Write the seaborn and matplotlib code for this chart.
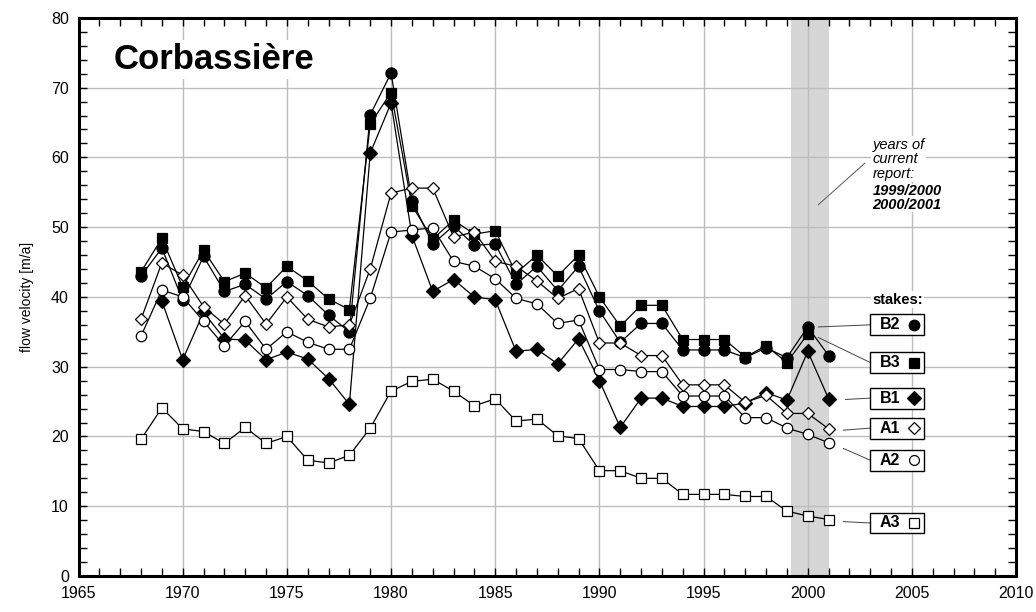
"""Corbassiere glacier: flow velocity at the stakes, 1968-2001."""

import matplotlib
matplotlib.use("Agg")
import matplotlib.pyplot as plt
from matplotlib.patches import Rectangle
from matplotlib.ticker import MultipleLocator
import seaborn as sns

# --- data -----------------------------------------------------------------
years_full = list(range(1968, 2002))
years_b3 = list(range(1968, 2001))
years_b1 = list(range(1969, 2002))

b2 = [43.0, 47.0, 39.5, 45.8, 40.8, 41.8, 39.7, 42.2, 40.2, 37.4, 35.0, 66.1,
      72.1, 53.8, 47.6, 50.2, 47.4, 47.6, 41.8, 44.4, 40.9, 44.4, 38.0, 33.5,
      36.2, 36.2, 32.4, 32.4, 32.4, 31.3, 32.7, 31.3, 35.7, 31.6]
b3 = [43.6, 48.4, 41.4, 46.7, 42.2, 43.4, 41.3, 44.4, 42.3, 39.7, 38.2, 64.8,
      69.3, 53.1, 48.3, 51.0, 49.0, 49.5, 43.4, 46.0, 43.0, 46.0, 40.0, 35.8,
      38.8, 38.8, 33.9, 33.9, 33.9, 31.4, 33.0, 30.6, 34.7]
b1 = [39.4, 31.0, 37.8, 34.0, 33.8, 31.0, 32.1, 31.1, 28.3, 24.6, 60.6, 67.8,
      48.8, 40.8, 42.5, 40.0, 39.6, 32.2, 32.5, 30.4, 34.0, 28.0, 21.3, 25.5,
      25.5, 24.3, 24.3, 24.3, 24.8, 26.3, 25.2, 32.2, 25.4]
a1 = [36.8, 44.9, 43.1, 38.6, 36.1, 40.2, 36.1, 40.0, 36.8, 35.7, 36.0, 44.0,
      54.9, 55.6, 55.6, 48.6, 49.3, 45.1, 44.4, 42.3, 39.8, 41.2, 33.4, 33.4,
      31.6, 31.6, 27.4, 27.4, 27.4, 24.9, 25.9, 23.3, 23.3, 21.1]
a2 = [34.4, 41.0, 40.0, 36.5, 33.0, 36.5, 32.5, 35.0, 33.5, 32.5, 32.5, 39.8,
      49.3, 49.6, 49.9, 45.1, 44.4, 42.6, 39.8, 39.0, 36.2, 36.7, 29.6, 29.6,
      29.3, 29.3, 25.8, 25.8, 25.8, 22.7, 22.7, 21.2, 20.3, 19.1]
a3 = [19.6, 24.1, 21.1, 20.7, 19.0, 21.3, 19.0, 20.0, 16.6, 16.2, 17.3, 21.2,
      26.5, 27.9, 28.2, 26.5, 24.4, 25.4, 22.2, 22.5, 20.1, 19.7, 15.1, 15.1,
      14.0, 14.0, 11.7, 11.7, 11.7, 11.4, 11.4, 9.3, 8.6, 8.1]

stake_names = ["B3", "B2", "B1", "A1", "A2", "A3"]
report_years = ["1999/2000", "2000/2001"]

# --- styles / layout (not data) -------------------------------------------
series = {
    "B3": (years_b3, b3, "s", "black", 7.0),
    "B2": (years_full, b2, "o", "black", 8.0),
    "B1": (years_b1, b1, "D", "black", 7.0),
    "A1": (years_full, a1, "D", "white", 6.5),
    "A2": (years_full, a2, "o", "white", 7.5),
    "A3": (years_full, a3, "s", "white", 7.5),
}
# label box centre (y) and leader-line start (x, y) for each stake
label_y = {"B2": 36.0, "B3": 30.6, "B1": 25.5, "A1": 21.2, "A2": 16.6, "A3": 7.6}
leader_start = {"B2": (2000.5, 35.7), "B3": (2000.5, 34.2), "B1": (2001.8, 25.3),
                "A1": (2001.7, 20.9), "A2": (2001.7, 18.3), "A3": (2001.7, 7.8)}
box_x0, box_x1, box_h = 2003.0, 2005.6, 3.0

sns.set_style("ticks")
plt.rcParams["font.family"] = ["Liberation Sans", "DejaVu Sans"]
for key in ["text.color", "axes.labelcolor", "xtick.color", "ytick.color"]:
  plt.rcParams[key] = "black"

fig = plt.figure(figsize=(10.36, 6.12), dpi=100)
ax = fig.add_axes([0.0758, 0.0588, 0.905, 0.912])

ax.axvspan(1999.2, 2001.0, color="#d6d6d6", lw=0, zorder=0.2)

for name in stake_names:
  xs, ys, mk, fc, ms = series[name]
  sns.lineplot(x=xs, y=ys, ax=ax, color="black", lw=0.9, marker=mk,
               markersize=ms, markerfacecolor=fc, markeredgecolor="black",
               markeredgewidth=0.9, zorder=3, estimator=None, sort=False)

ax.set_xlim(1965, 2010)
ax.set_ylim(0, 80)
ax.xaxis.set_major_locator(MultipleLocator(5))
ax.xaxis.set_minor_locator(MultipleLocator(1))
ax.yaxis.set_major_locator(MultipleLocator(10))
ax.yaxis.set_minor_locator(MultipleLocator(2))
ax.grid(True, which="major", color="#bdbdbd", lw=1.0)
ax.set_axisbelow(True)
ax.tick_params(which="both", direction="in", top=True, right=True,
               length=6, width=1.0, labelsize=11.5, pad=7, colors="black")
for sp in ax.spines.values():
  sp.set_linewidth(2.2)
  sp.set_color("black")
ax.set_ylabel("flow velocity [m/a]", fontsize=10, labelpad=12)
ax.set_xlabel("")

ax.text(1966.7, 74.0, "Corbassière", fontsize=25, fontweight="bold",
        va="center", ha="left", zorder=5,
        bbox=dict(fc="white", ec="none", pad=2))

# annotation for the shaded years
ax.plot([2000.5, 2002.75], [53.2, 59.2], color="#555555", lw=0.7, zorder=4)
ax.text(2003.1, 62.8, "years of\ncurrent\nreport:", fontsize=10.5,
        style="italic", va="top", ha="left", linespacing=1.05, zorder=5,
        bbox=dict(fc="white", ec="none", pad=1))
ax.text(2003.1, 56.2, "\n".join(report_years), fontsize=10.5, style="italic",
        fontweight="bold", va="top", ha="left", linespacing=1.05, zorder=4.9,
        bbox=dict(fc="white", ec="none", pad=0))

# stake labels
ax.text((box_x0 + box_x1) / 2, 39.6, "stakes:", fontsize=10.5, fontweight="bold",
        ha="center", va="center", zorder=5,
        bbox=dict(fc="white", ec="none", pad=1))
for name in stake_names:
  _, _, mk, fc, ms = series[name]
  yc = label_y[name]
  sx, sy = leader_start[name]
  ax.plot([sx, box_x0], [sy, yc], color="#444444", lw=0.7, zorder=2)
  ax.add_patch(Rectangle((box_x0, yc - box_h / 2), box_x1 - box_x0, box_h,
                         fc="white", ec="black", lw=1.0, zorder=4))
  ax.text(box_x0 + 0.45, yc, name, fontsize=11.5, fontweight="bold",
          ha="left", va="center", zorder=5)
  ax.plot([box_x1 - 0.5], [yc], marker=mk, markersize=ms * 0.95,
          markerfacecolor=fc, markeredgecolor="black", markeredgewidth=0.9,
          ls="none", zorder=5)

fig.savefig("out.png", dpi=100)
plt.close(fig)
